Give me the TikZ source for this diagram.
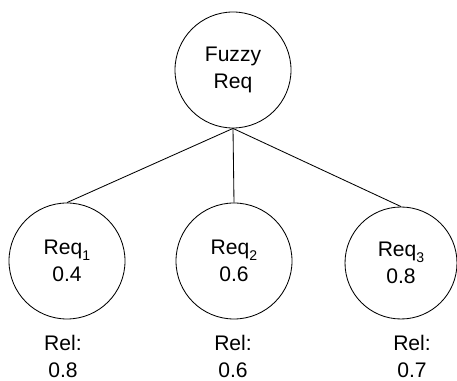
\documentclass[tikz,border=0pt]{standalone}
\usepackage{fontspec}
\setmainfont{Liberation Sans}
\usepackage{tikz}
\usetikzlibrary{positioning}
\newcommand{\lowidx}[1]{\raisebox{-0.5ex}{\fontsize{10}{10}\selectfont #1}}

\begin{document}
\begin{tikzpicture}[
      req/.style={circle,draw,line width=0.6pt,minimum size=2.9cm,inner sep=0pt,
        align=center,font=\fontsize{15}{19.2}\selectfont},
      rel/.style={align=center,inner sep=0pt,font=\fontsize{15}{19.2}\selectfont},
      link/.style={line width=0.6pt}]
      \useasboundingbox (0,0) rectangle (11.425,9.525);
      \node[req] (fuzzy) at (5.825,7.775) {Fuzzy\\Req};
      \node[req] (r1) at (1.675,3.0) {Req\lowidx{1}\\0.4};
      \node[req] (r2) at (5.85,3.0) {Req\lowidx{2}\\0.6};
      \node[req,minimum size=2.8cm] (r3) at (10.025,2.95) {Req\lowidx{3}\\0.8};
      \node[rel] (rel1) at (1.575,0.62) {Rel:\\0.8};
      \node[rel] (rel2) at (5.825,0.62) {Rel:\\0.6};
      \node[rel] (rel3) at (10.3,0.62) {Rel:\\0.7};
      \draw[link] (fuzzy.south) -- (r1.north);
      \draw[link] (fuzzy.south) -- (r2.north);
      \draw[link] (fuzzy.south) -- (r3.north);
    \end{tikzpicture}
\end{document}
